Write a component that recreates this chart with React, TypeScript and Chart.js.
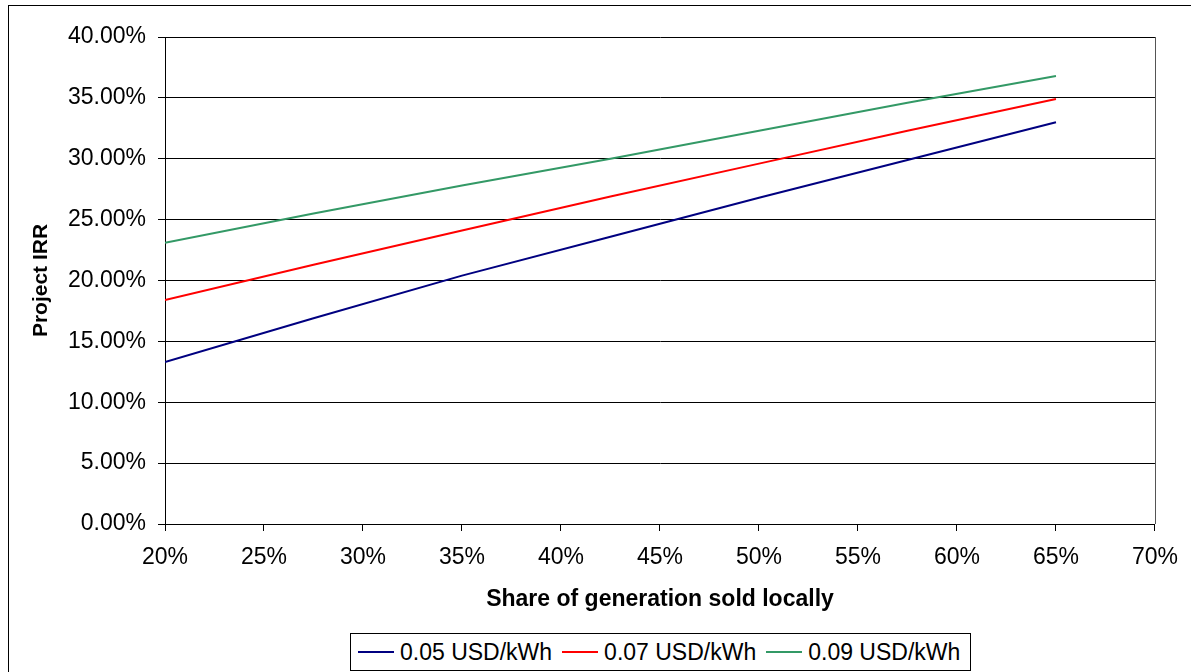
import React, { useEffect, useRef } from 'react';
import { Chart, registerables } from 'chart.js';

Chart.register(...registerables);

// Share of generation sold locally (%)
const shares = [20, 27.5, 35, 42.5, 50, 57.5, 65];
// Project IRR (%) for each tariff
const irr005 = [13.3, 16.9, 20.4, 23.6, 26.8, 29.9, 33.0];
const irr007 = [18.4, 21.3, 24.1, 26.9, 29.6, 32.3, 34.9];
const irr009 = [23.1, 25.5, 27.8, 30.0, 32.3, 34.6, 36.8];

const seriesLabels = ['0.05 USD/kWh', '0.07 USD/kWh', '0.09 USD/kWh'];
const seriesColors = ['#000080', '#FF0000', '#339966'];
const seriesValues = [irr005, irr007, irr009];

const xTitle = 'Share of generation sold locally';
const yTitle = 'Project IRR';

const FONT = "'Liberation Sans', Arial, Helvetica, sans-serif";

const plotFrame = {
  id: 'plotFrame',
  beforeDatasetsDraw(chart: any) {
    const { ctx, chartArea } = chart;
    ctx.save();
    ctx.strokeStyle = '#555';
    ctx.lineWidth = 1;
    ctx.beginPath();
    const x = Math.round(chartArea.right) + 0.5;
    ctx.moveTo(x, chartArea.top);
    ctx.lineTo(x, chartArea.bottom);
    ctx.stroke();
    ctx.restore();
  },
};

export default function App() {
  const ref = useRef<HTMLCanvasElement | null>(null);

  useEffect(() => {
    if (!ref.current) return;
    const chart = new Chart(ref.current, {
      type: 'line',
      data: {
        datasets: seriesValues.map((vals, i) => ({
          label: seriesLabels[i],
          data: shares.map((s, j) => ({ x: s, y: vals[j] })),
          borderColor: seriesColors[i],
          backgroundColor: seriesColors[i],
          borderWidth: 2,
          pointRadius: 0,
          tension: 0,
          fill: false,
        })),
      },
      options: {
        responsive: false,
        animation: false,
        layout: { padding: { left: 0, top: 37, right: 36, bottom: 0 } },
        plugins: {
          legend: { display: false },
          tooltip: { enabled: false },
        },
        scales: {
          x: {
            type: 'linear',
            min: 20,
            max: 70,
            afterFit: (s: any) => { s.height = 148; },
            ticks: {
              stepSize: 5,
              color: '#000',
              font: { family: FONT, size: 23 },
              padding: 13,
              maxRotation: 0,
              callback: (v: any) => `${Math.round(Number(v))}%`,
            },
            grid: { drawOnChartArea: false, drawTicks: true, tickLength: 7, color: '#000' },
            border: { display: true, color: '#000', width: 1 },
            title: {
              display: true,
              text: xTitle,
              color: '#000',
              font: { family: FONT, size: 23, weight: 'bold' },
              padding: { top: 0, bottom: 59 },
            },
          },
          y: {
            type: 'linear',
            min: 0,
            max: 40,
            afterFit: (s: any) => { s.width = 165; },
            ticks: {
              stepSize: 5,
              color: '#000',
              font: { family: FONT, size: 23 },
              padding: 12,
              callback: (v: any) => `${Number(v).toFixed(2)}%`,
            },
            grid: { drawOnChartArea: true, drawTicks: true, tickLength: 7, color: '#000', lineWidth: 1 },
            border: { display: true, color: '#000', width: 1 },
            title: {
              display: true,
              text: yTitle,
              color: '#000',
              font: { family: FONT, size: 21, weight: 'bold' },
              padding: { top: 29, bottom: 0 },
            },
          },
        },
      },
      plugins: [plotFrame],
    } as any);
    return () => chart.destroy();
  }, []);

  return (
    <div style={{ position: 'fixed', left: 0, top: 0, width: 1191, height: 672, overflow: 'hidden', background: '#fff' }}>
      <div
        style={{
          position: 'absolute',
          left: 8,
          top: 5,
          width: 1300,
          height: 800,
          border: '1px solid #000',
          boxSizing: 'border-box',
        }}
      />
      <canvas ref={ref} width={1191} height={672} style={{ position: 'absolute', left: 0, top: 0, display: 'block' }} />
      <div
        style={{
          position: 'absolute',
          left: 350,
          top: 633,
          width: 621,
          height: 38,
          border: '1px solid #000',
          boxSizing: 'border-box',
          display: 'flex',
          alignItems: 'center',
          paddingLeft: 7,
          fontFamily: FONT,
          fontSize: 23,
          color: '#000',
          whiteSpace: 'nowrap',
          background: '#fff',
        }}
      >
        {seriesLabels.map((lab, i) => (
          <div key={lab} style={{ display: 'flex', alignItems: 'center', marginRight: i < seriesLabels.length - 1 ? 10 : 0 }}>
            <span style={{ display: 'inline-block', width: 36, height: 2, background: seriesColors[i], marginRight: 6 }} />
            <span>{lab}</span>
          </div>
        ))}
      </div>
    </div>
  );
}
